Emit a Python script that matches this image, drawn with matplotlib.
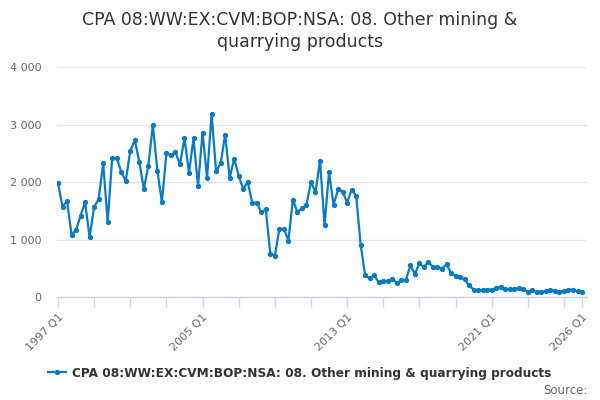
import numpy as np
import matplotlib.pyplot as plt
from matplotlib.ticker import FuncFormatter

# quarterly values, 1997 Q1 .. 2026 Q1
start_year = 1997
values = [1990, 1570, 1675, 1085, 1170, 1420, 1650, 1040, 1570, 1705,
          2325, 1310, 2425, 2420, 2180, 2020, 2545, 2730, 2350, 1885,
          2285, 2995, 2200, 1650, 2500, 2470, 2520, 2310, 2765, 2165,
          2760, 1935, 2860, 2075, 3185, 2185, 2325, 2825, 2075, 2410,
          2105, 1885, 2005, 1640, 1645, 1475, 1525, 760, 720, 1185,
          1190, 985, 1695, 1475, 1545, 1605, 2005, 1825, 2375, 1260,
          2170, 1605, 1875, 1835, 1645, 1865, 1765, 910, 380, 330,
          380, 260, 275, 280, 320, 250, 295, 295, 555, 405,
          590, 525, 620, 520, 525, 500, 570, 425, 375, 355,
          310, 205, 135, 120, 120, 135, 135, 155, 185, 145,
          145, 145, 160, 145, 100, 120, 90, 100, 105, 120,
          115, 100, 105, 130, 130, 105, 95]
quarters = [f"{start_year + i // 4} Q{i % 4 + 1}" for i in range(len(values))]
label_quarters = ["1997 Q1", "2005 Q1", "2013 Q1", "2021 Q1", "2026 Q1"]
y_ticks = [0, 1000, 2000, 3000, 4000]

title = "CPA 08:WW:EX:CVM:BOP:NSA: 08. Other mining &\nquarrying products"
series_name = "CPA 08:WW:EX:CVM:BOP:NSA: 08. Other mining & quarrying products"

line_col = "#0a7bc1"
axis_col = "#ccd6eb"
grid_col = "#e6e6e6"
text_col = "#666666"

fig = plt.figure(figsize=(6, 4), dpi=100)
ax = fig.add_axes([57 / 600, 1 - 297.3 / 400, 530 / 600, (297.3 - 67) / 400])

x = np.arange(len(values))
line, = ax.plot(x, values, color=line_col, lw=1.6, marker="o", ms=2.8,
                label=series_name, zorder=3)

ax.set_xlim(-0.22, 117.1)
ax.set_ylim(0, 4000)

# y axis
ax.set_yticks(y_ticks)
ax.yaxis.set_major_formatter(FuncFormatter(lambda v, p: f"{int(v):,}".replace(",", " ")))
ax.tick_params(axis="y", length=0, pad=11, labelsize=8, labelcolor=text_col)
ax.grid(axis="y", color=grid_col, lw=1)
ax.set_axisbelow(True)

# x axis: ticks every 8 quarters, labels on a few
tick_pos = list(range(0, len(values), 8)) + [len(values) - 1]
ax.set_xticks(tick_pos)
ax.set_xticklabels([quarters[i] if quarters[i] in label_quarters else "" for i in tick_pos],
                   rotation=45, ha="right", rotation_mode="anchor")
ax.tick_params(axis="x", length=7.5, width=1, color=axis_col, pad=3,
               labelsize=8, labelcolor=text_col)

for s in ["top", "right", "left"]:
    ax.spines[s].set_visible(False)
ax.spines["bottom"].set_color(axis_col)
ax.spines["bottom"].set_linewidth(1)

fig.text(0.5, 1 - 11 / 400, title, ha="center", va="top", fontsize=12.5,
         color="#333333", linespacing=1.3)

leg = fig.legend(handles=[line], loc="center", bbox_to_anchor=(0.5, 1 - 373 / 400),
                 frameon=False, handlelength=1.5, handletextpad=0.5,
                 prop={"weight": "bold", "size": 8.7})
for t in leg.get_texts():
    t.set_color("#333333")

fig.text(588 / 600, 1 - 390 / 400, "Source:", ha="right", va="center",
         fontsize=8.5, color=text_col)

fig.savefig("out.png", dpi=100)
